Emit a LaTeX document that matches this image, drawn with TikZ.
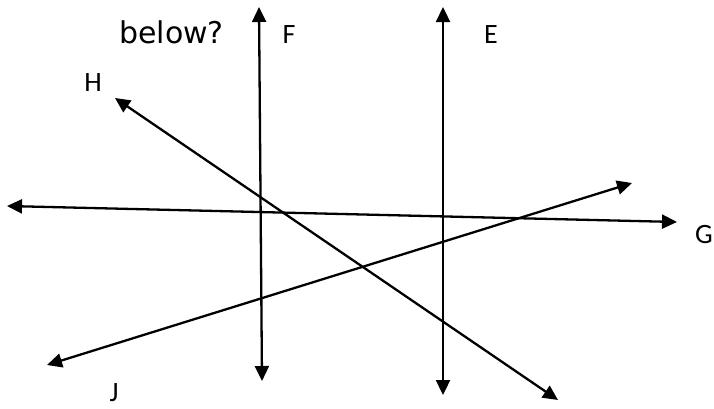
\documentclass[tikz,border=0pt]{standalone}
\usepackage{fontspec}
\setmainfont{Carlito}
\newfontfamily\askfont{DejaVu Sans}
\usetikzlibrary{arrows.meta}
\definecolor{RayBlack}{HTML}{000000}
\tikzset{
  ray/.style={{Triangle[length=15pt,width=14pt]}-{Triangle[length=15pt,width=14pt]},
              line width=2.3pt, RayBlack},
  raylabel/.style={font=\fontsize{28}{30}\selectfont\color{RayBlack}, inner sep=0pt},
  asktext/.style={font=\askfont\fontsize{30}{34}\selectfont\color{RayBlack}, inner sep=0pt},
}
\begin{document}
\begin{tikzpicture}[x=1pt,y=-1pt]
  \useasboundingbox (0,0) rectangle (714,408);

  % question text, cut at the top
  \node[asktext, anchor=base west] (ask) at (119,43) {below?};

  % line ends
  \coordinate (f1) at (259,7);   \coordinate (f2) at (262,381);
  \coordinate (e1) at (443,7);   \coordinate (e2) at (443,395);
  \coordinate (g1) at (7,206);   \coordinate (g2) at (677,222);
  \coordinate (h1) at (115,98);  \coordinate (h2) at (558,400);
  \coordinate (j1) at (47,365);  \coordinate (j2) at (632,183);

  % the lines
  \draw[ray] (f1) -- (f2);
  \draw[ray] (e1) -- (e2);
  \draw[ray] (g1) -- (g2);
  \draw[ray] (h1) -- (h2);
  \draw[ray] (j1) -- (j2);

  % labels
  \node[raylabel, anchor=base] (lf) at (289,43)  {F};
  \node[raylabel, anchor=base] (le) at (491,43)  {E};
  \node[raylabel, anchor=base] (lg) at (704,243) {G};
  \node[raylabel, anchor=base] (lh) at (93,91)   {H};
  \node[raylabel, anchor=base] (lj) at (114,401) {J};

\end{tikzpicture}
\end{document}
